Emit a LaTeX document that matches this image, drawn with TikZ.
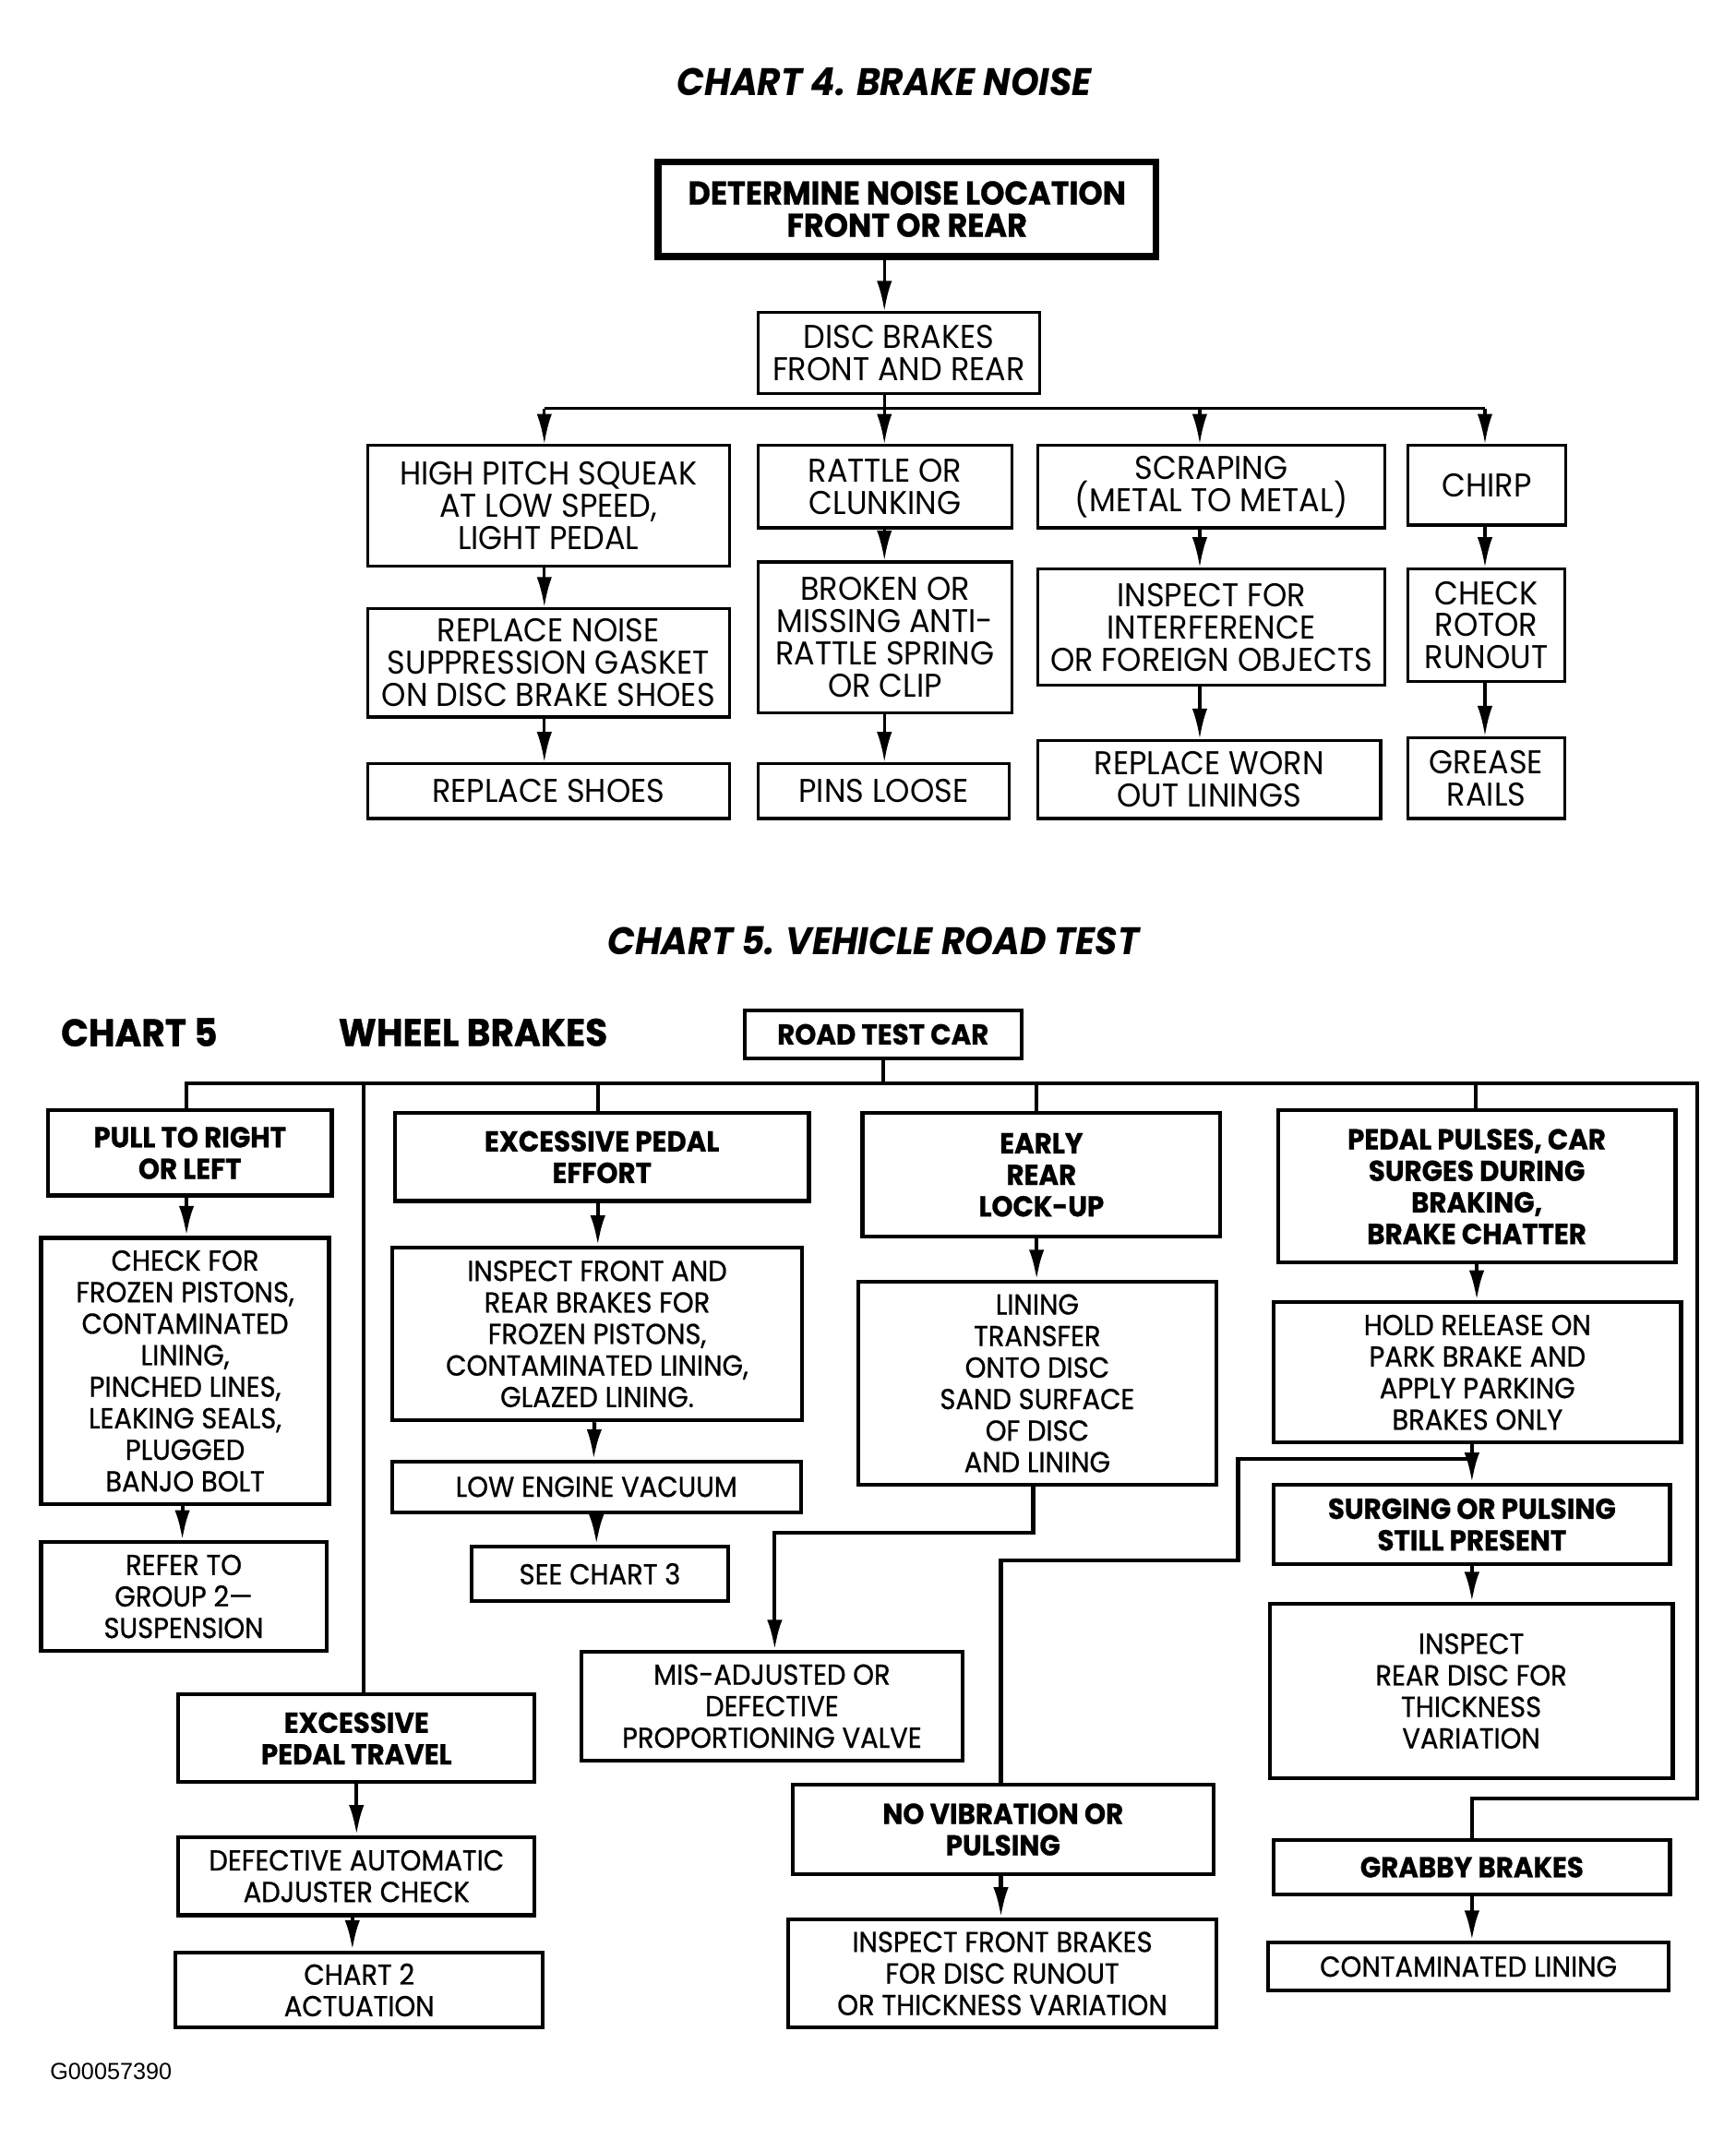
\documentclass[tikz,border=0pt]{standalone}
\usepackage{fontspec}
\usepackage{tikz}
\usetikzlibrary{arrows.meta}
\newfontfamily\chartfont[FakeStretch=0.94, BoldFeatures={FakeBold=0.8}]{Poppins}
\newfontfamily\bodyfont[FakeStretch=0.93, FakeBold=0.7]{Poppins}
\newfontfamily\tagfont{Liberation Sans}
\newcommand{\toptext}{\chartfont\fontsize{24}{23.5}\selectfont}
\newcommand{\lowtext}{\bodyfont\fontsize{21}{23}\selectfont}
\newcommand{\lowhead}{\chartfont\bfseries\fontsize{21}{23}\selectfont}
\newcommand{\charttitle}{\chartfont\bfseries\itshape\fontsize{28}{30}\selectfont}
\tikzset{box/.style={draw, line width=2.2pt, align=center, inner sep=0pt, font=\toptext},
  lowbox/.style={box, line width=2.8pt, font=\lowtext},
  headbox/.style={lowbox, font=\lowhead},
  wh/.style 2 args={minimum width=#1pt, minimum height=#2pt},
  link/.style={line width=2.2pt},
  lowlink/.style={line width=2.8pt},
  arr/.style={link, -{Latex[length=22pt,width=11pt]}},
  lowarr/.style={lowlink, -{Latex[length=22pt,width=11pt]}}}

\begin{document}
\begin{tikzpicture}[x=1pt, y=-1pt]
\useasboundingbox (0,0) rectangle (1266,1569);
% chart 4
\node[font=\charttitle] (title4) at (645,60) {CHART 4. BRAKE NOISE};
\node[box, line width=5pt, font=\toptext\bfseries, wh={363}{69}] (locate) at (661.5,152.5) {DETERMINE NOISE LOCATION\\FRONT OR REAR};
\node[box, wh={205}{59}] (disc) at (655.5,257.5) {DISC BRAKES\\FRONT AND REAR};
\coordinate (c1) at (397,0);
\coordinate (c2) at (645,0);
\coordinate (c3) at (875,0);
\coordinate (c4) at (1083,0);
\coordinate (bus4) at (0,298);

\node[box, wh={264}{88}] (squeak) at (400,369) {HIGH PITCH SQUEAK\\AT LOW SPEED,\\LIGHT PEDAL};
\node[box, wh={264}{79}] (gasket) at (400,483.5) {REPLACE NOISE\\SUPPRESSION GASKET\\ON DISC BRAKE SHOES};
\node[box, wh={264}{40}] (shoes) at (400,577) {REPLACE SHOES};

\node[box, wh={185}{60}] (rattle) at (645.5,355) {RATTLE OR\\CLUNKING};
\node[box, wh={185}{110}] (broken) at (645.5,465) {BROKEN OR\\MISSING ANTI-\\RATTLE SPRING\\OR CLIP};
\node[box, wh={183}{40}] (pins) at (644.5,577) {PINS LOOSE};

\node[box, wh={253}{60}] (scrape) at (883.5,355) {SCRAPING\\(METAL TO METAL)};
\node[box, wh={253}{85}] (foreign) at (883.5,457.5) {INSPECT FOR\\INTERFERENCE\\OR FOREIGN OBJECTS};
\node[box, wh={250}{57}] (worn) at (882,568.5) {REPLACE WORN\\OUT LININGS};

\node[box, wh={115}{58}] (chirp) at (1084.5,354) {CHIRP};
\node[box, wh={114}{82}] (rotor) at (1084,456) {CHECK\\ROTOR\\RUNOUT};
\node[box, wh={114}{59}] (grease) at (1084,567.5) {GREASE\\RAILS};

\draw[arr] (locate.south -| c2) -- (disc.north -| c2);
\draw[link] (disc.south -| c2) -- (c2 |- bus4);
\draw[link] (c1 |- bus4) -- (c4 |- bus4);
\draw[arr] (c1 |- bus4) -- (squeak.north -| c1);
\draw[arr] (c2 |- bus4) -- (rattle.north -| c2);
\draw[arr] (c3 |- bus4) -- (scrape.north -| c3);
\draw[arr] (c4 |- bus4) -- (chirp.north -| c4);
\draw[arr] (squeak.south -| c1) -- (gasket.north -| c1);
\draw[arr] (gasket.south -| c1) -- (shoes.north -| c1);
\draw[arr] (rattle.south -| c2) -- (broken.north -| c2);
\draw[arr] (broken.south -| c2) -- (pins.north -| c2);
\draw[arr] (scrape.south -| c3) -- (foreign.north -| c3);
\draw[arr] (foreign.south -| c3) -- (worn.north -| c3);
\draw[arr] (chirp.south -| c4) -- (rotor.north -| c4);
\draw[arr] (rotor.south -| c4) -- (grease.north -| c4);

% chart 5
\node[font=\charttitle] (title5) at (637,686) {CHART 5. VEHICLE ROAD TEST};
\node[anchor=west, font=\chartfont\bfseries\fontsize{28}{30}\selectfont] (chart5) at (41,753) {CHART 5};
\node[font=\chartfont\bfseries\fontsize{28}{30}\selectfont] (wheel) at (345,753) {WHEEL BRAKES};
\node[headbox, font=\chartfont\bfseries\fontsize{21}{22}\selectfont, wh={202}{35}] (road) at (644,754.5) {ROAD TEST CAR};
\coordinate (bus5) at (0,790);
\coordinate (d1) at (136,0);
\coordinate (d2) at (265,0);
\coordinate (d3) at (436,0);
\coordinate (d4) at (756,0);
\coordinate (d5) at (1076,0);
\coordinate (d6) at (1238,0);
\coordinate (turn) at (0,1312);
\coordinate (misroute) at (0,1118);
\coordinate (loopa) at (0,1064);
\coordinate (loopb) at (0,1138);
\coordinate (loopx) at (903,0);
\coordinate (novx) at (730,0);
\coordinate (valvex) at (565,0);

\node[headbox, wh={207}{62}] (pull) at (138.5,841) {PULL TO RIGHT\\OR LEFT};
\node[lowbox, wh={210}{194}] (check) at (135,1000) {CHECK FOR\\FROZEN PISTONS,\\CONTAMINATED\\LINING,\\PINCHED LINES,\\LEAKING SEALS,\\PLUGGED\\BANJO BOLT};
\node[lowbox, wh={208}{79}] (refer) at (134,1164.5) {REFER TO\\GROUP 2—\\SUSPENSION};

\node[headbox, wh={302}{64}] (effort) at (439,844) {EXCESSIVE PEDAL\\EFFORT};
\node[lowbox, wh={299}{126}] (front) at (435.5,973) {INSPECT FRONT AND\\REAR BRAKES FOR\\FROZEN PISTONS,\\CONTAMINATED LINING,\\GLAZED LINING.};
\node[lowbox, wh={298}{37}] (vacuum) at (435,1084.5) {LOW ENGINE VACUUM};
\node[lowbox, wh={187}{40}] (chart3) at (437.5,1148) {SEE CHART 3};

\node[headbox, wh={261}{90}] (early) at (759.5,857) {EARLY\\REAR\\LOCK-UP};
\node[lowbox, wh={261}{148}] (lining) at (756.5,1009) {LINING\\TRANSFER\\ONTO DISC\\SAND SURFACE\\OF DISC\\AND LINING};
\node[lowbox, wh={278}{79}] (valve) at (563,1244.5) {MIS-ADJUSTED OR\\DEFECTIVE\\PROPORTIONING VALVE};

\node[headbox, wh={290}{111}] (pulses) at (1077,865.5) {PEDAL PULSES, CAR\\SURGES DURING\\BRAKING,\\BRAKE CHATTER};
\node[lowbox, wh={297}{102}] (hold) at (1077.5,1001) {HOLD RELEASE ON\\PARK BRAKE AND\\APPLY PARKING\\BRAKES ONLY};
\node[headbox, wh={289}{58}] (surging) at (1073.5,1112) {SURGING OR PULSING\\STILL PRESENT};
\node[lowbox, wh={294}{127}] (reardisc) at (1073,1233.5) {INSPECT\\REAR DISC FOR\\THICKNESS\\VARIATION};
\node[headbox, wh={289}{40}] (grabby) at (1073.5,1362) {GRABBY BRAKES};
\node[lowbox, wh={292}{35}] (contam) at (1071,1434.5) {CONTAMINATED LINING};

\node[headbox, wh={307}{65}] (novib) at (731.5,1334.5) {NO VIBRATION OR\\PULSING};
\node[lowbox, wh={312}{79}] (runout) at (731,1439.5) {INSPECT FRONT BRAKES\\FOR DISC RUNOUT\\OR THICKNESS VARIATION};

\node[headbox, wh={260}{64}] (travel) at (260,1268) {EXCESSIVE\\PEDAL TRAVEL};
\node[lowbox, wh={260}{57}] (adjuster) at (260,1368.5) {DEFECTIVE AUTOMATIC\\ADJUSTER CHECK};
\node[lowbox, wh={268}{55}] (chart2) at (262,1451.5) {CHART 2\\ACTUATION};

\node[anchor=west, font=\tagfont\fontsize{17}{19}\selectfont] (figno) at (33,1511) {G00057390};

\draw[lowlink] (road.south) -- (road.south |- bus5);
\draw[lowlink] (pull.north -| d1) -- (d1 |- bus5) -- (d6 |- bus5) -- (d6 |- turn) -- (grabby.north |- turn) -- (grabby.north);
\draw[lowlink] (d2 |- bus5) -- (travel.north -| d2);
\draw[lowlink] (d3 |- bus5) -- (effort.north -| d3);
\draw[lowlink] (d4 |- bus5) -- (early.north -| d4);
\draw[lowlink] (d5 |- bus5) -- (pulses.north -| d5);

\draw[lowarr] (pull.south -| d1) -- (check.north -| d1);
\draw[lowarr] ([xshift=-2pt]check.south) -- ([xshift=-1pt]refer.north);
\draw[lowarr] (effort.south -| d3) -- (front.north -| d3);
\draw[lowarr] ([xshift=-2pt]front.south) -- ([xshift=-2pt]vacuum.north);
\draw[lowarr] (vacuum.south) -- (chart3.north -| vacuum.south);
\draw[lowarr] (early.south -| d4) -- (lining.north -| d4);
\draw[lowarr] ([xshift=-3pt]lining.south) -- ([xshift=-3pt]lining.south |- misroute) -- (valvex |- misroute) -- (valve.north -| valvex);
\draw[lowarr] (pulses.south) -- (hold.north -| pulses.south);
\draw[lowarr] (hold.south -| surging.north) -- (surging.north);
\draw[lowlink] (surging.north |- loopa) -- (loopx |- loopa) -- (loopx |- loopb) -- (novx |- loopb) -- (novib.north -| novx);
\draw[lowarr] (surging.south) -- (reardisc.north -| surging.south);
\draw[lowarr] (grabby.south) -- (contam.north -| grabby.south);
\draw[lowarr] (novib.south -| novx) -- (runout.north -| novx);
\draw[lowarr] (travel.south) -- (adjuster.north);
\draw[lowarr] ([xshift=-3pt]adjuster.south) -- ([xshift=-3pt]adjuster.south |- chart2.north);
\end{tikzpicture}
\end{document}
